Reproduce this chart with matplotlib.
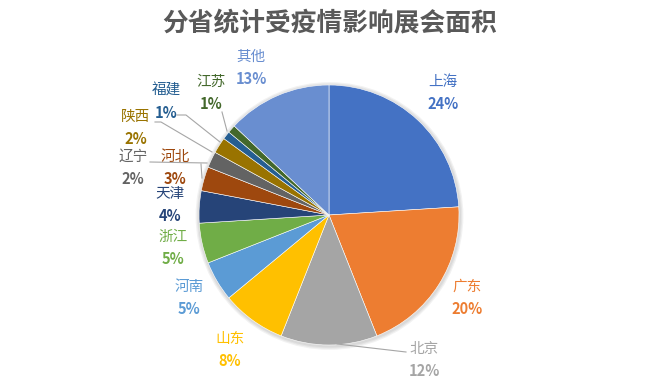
import matplotlib
matplotlib.use('Agg')
import matplotlib.pyplot as plt
from matplotlib.patches import Circle

plt.rcParams['font.family'] = ['Noto Sans CJK SC', 'DejaVu Sans']

# ---- data ----
categories = ['上海', '广东', '北京', '山东', '河南', '浙江', '天津', '河北', '辽宁', '陕西', '福建', '江苏', '其他']
values = [24, 20, 12, 8, 5, 5, 4, 3, 2, 2, 1, 1, 13]
pct_labels = ['24%', '20%', '12%', '8%', '5%', '5%', '4%', '3%', '2%', '2%', '1%', '1%', '13%']
title = '分省统计受疫情影响展会面积'

# ---- style / layout ----
colors = ['#4472C4', '#ED7D31', '#A5A5A5', '#FFC000', '#5B9BD5', '#70AD47',
          '#264478', '#9E480E', '#636363', '#997300', '#255E91', '#43682B', '#698ED0']
W, H = 659, 385
cx, cy, R = 329, 215, 130  # pixel coords (y down)
# label anchor (pixel coords): name line centre
label_pos = [(443, 82), (467, 287), (424, 349), (230, 339), (189, 287), (173, 237),
             (170, 194), (175, 157), (133, 157), (136, 117), (166, 91), (211, 82), (251, 57)]
line_gap = 22
leaders = {
    '北京': [(337, 344), (406, 352)],
    '江苏': [(222, 112), (227, 131)],
    '福建': [(177, 115), (186, 115), (220, 142)],
    '陕西': [(155, 122), (161, 122), (212, 152)],
    '辽宁': [(150, 162), (207, 163)],
    '河北': [(201, 164), (202, 178)],
}

fig = plt.figure(figsize=(W / 100, H / 100), dpi=100)
ax = fig.add_axes([0, 0, 1, 1])
ax.set_xlim(0, W)
ax.set_ylim(0, H)
ax.set_aspect('equal')
ax.axis('off')

def P(x, y):
    return x, H - y

# soft shadow
for i, a in enumerate([0.05, 0.05, 0.05]):
    ax.add_patch(Circle(P(cx + 0.5, cy + 1), R + 1.5 + i * 1.2, color='#000000', alpha=a, lw=0, zorder=0))

ax.pie(values, colors=colors, startangle=90, counterclock=False, radius=R,
       center=P(cx, cy), frame=True,
       wedgeprops=dict(linewidth=0.4, edgecolor='#ffffff'))
ax.set_xlim(0, W)
ax.set_ylim(0, H)
ax.axis('off')

for name, pts in leaders.items():
    xs = [p[0] for p in pts]
    ys = [H - p[1] for p in pts]
    ax.plot(xs, ys, color='#A6A6A6', lw=0.8, zorder=3)

for cat, pct, col, (lx, ly) in zip(categories, pct_labels, colors, label_pos):
    ax.text(*P(lx, ly), cat, color=col, fontsize=10.5, ha='center', va='center', zorder=4)
    ax.text(*P(lx, ly + line_gap), pct, color=col, fontsize=10.5, fontweight='bold', ha='center', va='center', zorder=4)

ax.text(*P(330, 24), title, color='#595959', fontsize=18.5, fontweight='bold', ha='center', va='center')

fig.savefig('out.png', dpi=100)
